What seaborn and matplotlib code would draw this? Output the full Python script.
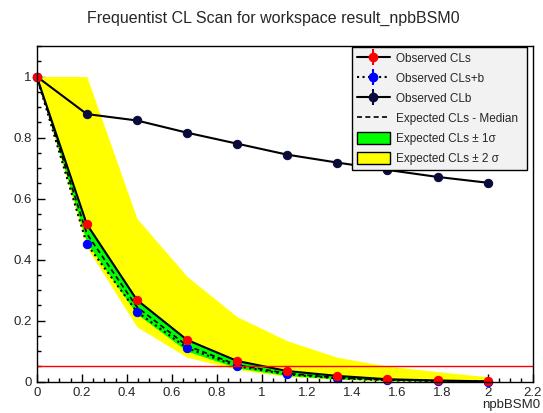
import matplotlib
matplotlib.use("Agg")
import matplotlib.pyplot as plt
import seaborn as sns
from matplotlib.lines import Line2D
from matplotlib.patches import Patch
from matplotlib.legend_handler import HandlerTuple
from matplotlib.ticker import MultipleLocator

# scan points (npbBSM0)
mu = [0.0, 0.2222, 0.4444, 0.6667, 0.8889, 1.1111, 1.3333, 1.5556, 1.7778, 2.0]

cls_obs = [1.0, 0.516, 0.268, 0.137, 0.068, 0.035, 0.019, 0.008, 0.004, 0.001]
clsb_obs = [1.0, 0.451, 0.229, 0.110, 0.051, 0.024, 0.011, 0.005, 0.002, 0.0005]
clb_obs = [1.0, 0.877, 0.856, 0.816, 0.780, 0.744, 0.718, 0.694, 0.671, 0.652]

exp_median = [1.0, 0.485, 0.245, 0.118, 0.055, 0.027, 0.013, 0.006, 0.003, 0.001]
exp_1s_lo = [1.0, 0.455, 0.222, 0.100, 0.045, 0.020, 0.009, 0.004, 0.002, 0.0]
exp_1s_hi = [1.0, 0.520, 0.272, 0.140, 0.068, 0.036, 0.019, 0.009, 0.004, 0.001]
exp_2s_lo = [1.0, 0.440, 0.180, 0.080, 0.040, 0.017, 0.008, 0.003, 0.001, 0.0]
exp_2s_hi = [1.0, 1.0, 0.535, 0.345, 0.213, 0.134, 0.080, 0.051, 0.033, 0.016]

cl_line = 0.05

sns.set_style("white")
plt.rcParams["font.family"] = ["Liberation Sans", "DejaVu Sans"]

fig = plt.figure(figsize=(5.43, 4.13), dpi=100)
ax = fig.add_axes([0.0676, 0.0758, 0.9134, 0.8128])

ax.fill_between(mu, exp_2s_lo, exp_2s_hi, color="#ffff00", lw=0)
ax.fill_between(mu, exp_1s_lo, exp_1s_hi, color="#00ff00", lw=0)
sns.lineplot(x=mu, y=exp_median, color="black", lw=1.2, linestyle=(0, (3, 2)), ax=ax)

navy = "#0b0b3b"
sns.lineplot(x=mu, y=clb_obs, color="black", lw=1.5, marker="o", markersize=6,
             markerfacecolor=navy, markeredgecolor=navy, ax=ax, clip_on=False)
sns.lineplot(x=mu, y=clsb_obs, color="black", lw=1.5, linestyle=":", marker="o",
             markersize=6, markerfacecolor="blue", markeredgecolor="blue", ax=ax, clip_on=False)
sns.lineplot(x=mu, y=cls_obs, color="black", lw=1.5, marker="o", markersize=6,
             markerfacecolor="red", markeredgecolor="red", ax=ax, clip_on=False)
ax.axhline(cl_line, color="red", lw=1)

ax.set_xlim(0, 2.2)
ax.set_ylim(0, 1.1)
ax.xaxis.set_major_locator(MultipleLocator(0.2))
ax.xaxis.set_minor_locator(MultipleLocator(0.05))
ax.yaxis.set_major_locator(MultipleLocator(0.2))
ax.yaxis.set_minor_locator(MultipleLocator(0.05))
ax.tick_params(which="both", direction="in", bottom=True, left=True, top=False, right=False,
               labelsize=9.5, color="black", width=1)
ax.tick_params(which="major", length=6)
ax.tick_params(which="minor", length=3)
ax.set_xticks([0, 0.2, 0.4, 0.6, 0.8, 1.0, 1.2, 1.4, 1.6, 1.8, 2.0, 2.2])
ax.set_xticklabels(["0", "0.2", "0.4", "0.6", "0.8", "1", "1.2", "1.4", "1.6", "1.8", "2", "2.2"])
ax.set_yticks([0, 0.2, 0.4, 0.6, 0.8, 1.0])
ax.set_yticklabels(["0", "0.2", "0.4", "0.6", "0.8", "1"])
for s in ax.spines.values():
    s.set_color("black")
    s.set_linewidth(1)
ax.set_xlabel("")
ax.set_ylabel("")

fig.text(0.503, 0.956, "Frequentist CL Scan for workspace result_npbBSM0",
         ha="center", va="center", fontsize=11.5)
fig.text(540 / 543, 1 - 399 / 413, "npbBSM0", ha="right", va="top", fontsize=9.5)

handles = [
    (Line2D([], [], color="black", lw=1.5),
     Line2D([], [], color="red", marker="|", markersize=12, ls="", mew=1.5),
     Line2D([], [], color="red", marker="o", markersize=6, ls="")),
    (Line2D([], [], color="black", lw=1.5, ls=":"),
     Line2D([], [], color="blue", marker="|", markersize=12, ls="", mew=1.5),
     Line2D([], [], color="blue", marker="o", markersize=6, ls="")),
    (Line2D([], [], color="black", lw=1.5),
     Line2D([], [], color=navy, marker="|", markersize=12, ls="", mew=1.5),
     Line2D([], [], color=navy, marker="o", markersize=6, ls="")),
    Line2D([], [], color="black", lw=1.2, ls=(0, (3, 2))),
    Patch(facecolor="#00ff00", edgecolor="black", lw=1),
    Patch(facecolor="#ffff00", edgecolor="black", lw=1),
]
labels = ["Observed CLs", "Observed CLs+b", "Observed CLb", "Expected CLs - Median",
          "Expected CLs \u00b1 1\u03c3", "Expected CLs \u00b1 2 \u03c3"]
leg = fig.legend(handles, labels, loc="upper left",
                 bbox_to_anchor=(346 / 543, 1 - 45 / 413, (533 - 346) / 543, 0.01),
                 mode="expand", fontsize=8.5, frameon=True, fancybox=False,
                 facecolor="#f2f2f2", edgecolor="black", framealpha=1,
                 handlelength=2.8, handleheight=1.2, labelspacing=0.6,
                 borderpad=0.4, handletextpad=0.5,
                 handler_map={tuple: HandlerTuple(ndivide=1)})
leg.get_frame().set_linewidth(1)

fig.savefig("out.png", dpi=100, facecolor="white")
